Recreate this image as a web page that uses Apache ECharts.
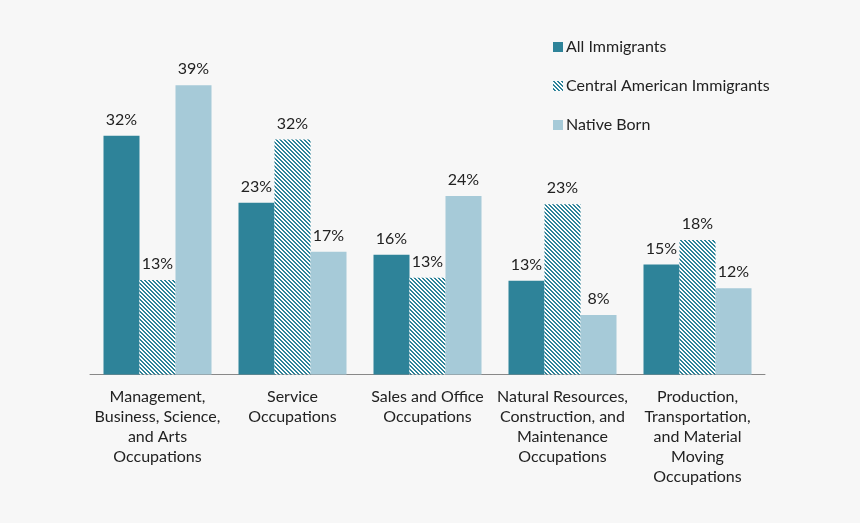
<!DOCTYPE html>
<html><head><meta charset="utf-8">
<script src="https://cdn.jsdelivr.net/npm/echarts@6/dist/echarts.min.js"></script>
<style>html,body{margin:0;padding:0;background:#f7f7f7;}#c{width:860px;height:523px;}</style>
</head><body><div id="c"></div>
<script>
const categories = [
  "Management,\nBusiness, Science,\nand Arts\nOccupations",
  "Service\nOccupations",
  "Sales and Office\nOccupations",
  "Natural Resources,\nConstruction, and\nMaintenance\nOccupations",
  "Production,\nTransportation,\nand Material\nMoving\nOccupations"
];
const allImmigrants = [32.1, 23.1, 16.1, 12.6, 14.8];
const centralAmerican = [12.7, 31.6, 13.0, 22.9, 18.1];
const nativeBorn = [38.9, 16.5, 24.0, 8.0, 11.6];

const dark = '#2e8399';
const light = '#a6cad8';

const tile = document.createElement('canvas');
tile.width = 4; tile.height = 4;
const tc = tile.getContext('2d');
tc.fillStyle = '#ffffff'; tc.fillRect(0,0,4,4);
tc.fillStyle = dark;
for (let x = 0; x < 4; x++) for (let y = 0; y < 4; y++) {
  const m = ((x - y) % 4 + 4) % 4;
  if (m === 0 || m === 1) tc.fillRect(x, y, 1, 1);
}

const chart = echarts.init(document.getElementById('c'));
const font = 'Lato, "Open Sans", sans-serif';
const labelCfg = { show: true, position: 'top', distance: 8, formatter: p => Math.round(p.value) + '%', color: '#222', fontSize: 16, fontFamily: font };
chart.setOption({
  backgroundColor: '#f7f7f7',
  animation: false,
  textStyle: { fontFamily: font },
  legend: {
    orient: 'vertical', left: 548, top: 34, itemWidth: 10, itemHeight: 10, itemGap: 23,
    icon: 'rect',
    textStyle: { fontSize: 16, color: '#222', fontFamily: font, padding: [0,0,0,-2] },
    data: ['All Immigrants', 'Central American Immigrants', 'Native Born']
  },
  grid: { left: 90, right: 95, top: 77, bottom: 148.5 },
  xAxis: {
    type: 'category', data: categories,
    axisLine: { lineStyle: { color: '#888', width: 1 } },
    axisTick: { show: false },
    axisLabel: { color: '#222', fontSize: 16, lineHeight: 20, margin: 12, interval: 0, fontFamily: font }
  },
  yAxis: { type: 'value', min: 0, max: 40, show: false, splitLine: { show: false } },
  series: [
    { name: 'All Immigrants', type: 'bar', data: allImmigrants, barGap: '0%', barCategoryGap: '20%',
      itemStyle: { color: dark }, label: labelCfg },
    { name: 'Central American Immigrants', type: 'bar', data: centralAmerican,
      itemStyle: { color: { image: tile, repeat: 'repeat' } }, label: labelCfg },
    { name: 'Native Born', type: 'bar', data: nativeBorn,
      itemStyle: { color: light }, label: labelCfg }
  ]
});
</script></body></html>
